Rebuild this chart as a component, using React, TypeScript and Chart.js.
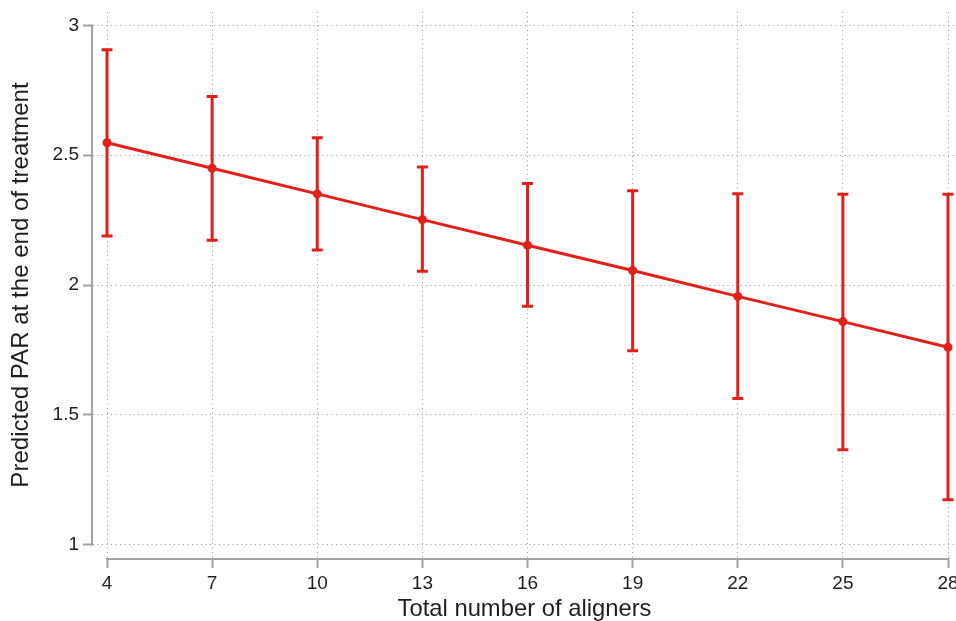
import React, { useEffect, useRef } from 'react';
import { Chart, registerables } from 'chart.js';

Chart.register(...registerables);

const aligners = [4, 7, 10, 13, 16, 19, 22, 25, 28];
const predicted = [2.548, 2.45, 2.351, 2.252, 2.153, 2.056, 1.956, 1.859, 1.76];
const upper = [2.907, 2.726, 2.567, 2.455, 2.391, 2.363, 2.352, 2.35, 2.35];
const lower = [2.189, 2.172, 2.135, 2.053, 1.918, 1.747, 1.563, 1.365, 1.172];
const xTicks = [4, 7, 10, 13, 16, 19, 22, 25, 28];
const yTicks = [1, 1.5, 2, 2.5, 3];
const xTitle = 'Total number of aligners';
const yTitle = 'Predicted PAR at the end of treatment';

const RED = '#e2201a';
const AXIS = '#a3a3a3';
const GRID = '#999999';
const TEXT = '#1e1e1e';
const FAMILY = "'Liberation Sans', Arial, sans-serif";

const zeroPadding = () => ({ left: 0, top: 0, right: 0, bottom: 0 });

const errorBarPlugin = {
  id: 'errorBars',
  afterDatasetsDraw(chart: any) {
    const { ctx, scales } = chart;
    const x = scales.x;
    const y = scales.y;
    ctx.save();
    ctx.strokeStyle = RED;
    ctx.lineWidth = 3;
    aligners.forEach((a, i) => {
      const px = x.getPixelForValue(a);
      const pt = y.getPixelForValue(upper[i]);
      const pb = y.getPixelForValue(lower[i]);
      ctx.beginPath();
      ctx.moveTo(px, pt);
      ctx.lineTo(px, pb);
      ctx.moveTo(px - 5.5, pt);
      ctx.lineTo(px + 5.5, pt);
      ctx.moveTo(px - 5.5, pb);
      ctx.lineTo(px + 5.5, pb);
      ctx.stroke();
    });
    ctx.restore();
  },
};

const axisLinePlugin = {
  id: 'axisLines',
  beforeDatasetsDraw(chart: any) {
    const { ctx, chartArea, scales } = chart;
    const x = scales.x;
    const y = scales.y;
    ctx.save();
    ctx.strokeStyle = AXIS;
    ctx.lineWidth = 2;
    ctx.beginPath();
    const lx = chartArea.left - 1;
    ctx.moveTo(lx, y.getPixelForValue(yTicks[yTicks.length - 1]) - 1);
    ctx.lineTo(lx, y.getPixelForValue(yTicks[0]) + 1);
    const by = chartArea.bottom + 1;
    ctx.moveTo(x.getPixelForValue(xTicks[0]) - 1, by);
    ctx.lineTo(x.getPixelForValue(xTicks[xTicks.length - 1]) + 1, by);
    ctx.stroke();
    ctx.restore();
  },
};

export default function App() {
  const canvasRef = useRef<HTMLCanvasElement | null>(null);

  useEffect(() => {
    document.body.style.margin = '0';
    const canvas = canvasRef.current;
    if (!canvas) return;
    const gridOpts = {
      color: GRID,
      lineWidth: 1,
      tickLength: 10,
      tickColor: AXIS,
      tickWidth: 2,
      tickBorderDash: [],
    };
    const chart = new Chart(canvas, {
      type: 'line',
      data: {
        datasets: [
          {
            data: aligners.map((a, i) => ({ x: a, y: predicted[i] })),
            borderColor: RED,
            backgroundColor: RED,
            borderWidth: 3,
            pointRadius: 4.5,
            pointBackgroundColor: RED,
            pointBorderColor: RED,
            pointBorderWidth: 0,
            fill: false,
            tension: 0,
          },
        ],
      },
      options: {
        animation: false,
        responsive: true,
        maintainAspectRatio: false,
        layout: { autoPadding: false, padding: { top: 12, right: 0, bottom: 0, left: 0 } },
        plugins: {
          legend: { display: false },
          tooltip: { enabled: false },
        },
        scales: {
          x: {
            type: 'linear',
            min: 3.6,
            max: 28.228,
            afterBuildTicks: (s: any) => {
              s.ticks = xTicks.map((v) => ({ value: v }));
            },
            afterFit: (s: any) => {
              s.height = 63;
              s.paddingLeft = 0;
              s.paddingRight = 0;
              s.getPadding = zeroPadding;
            },
            grid: gridOpts,
            border: { display: false, dash: [1, 3.5] },
            ticks: {
              font: { family: FAMILY, size: 19 },
              color: TEXT,
              padding: 4,
              maxRotation: 0,
              autoSkip: false,
              callback: (v: any) => String(v),
            },
            title: {
              display: true,
              text: xTitle,
              color: TEXT,
              font: { family: FAMILY, size: 23.8, lineHeight: 1 },
              padding: { top: 0, bottom: -0.5 },
            },
          },
          y: {
            type: 'linear',
            min: 0.948,
            max: 3.052,
            afterBuildTicks: (s: any) => {
              s.ticks = yTicks.map((v) => ({ value: v }));
            },
            afterFit: (s: any) => {
              s.width = 93;
              s.paddingTop = 0;
              s.paddingBottom = 0;
              s.getPadding = zeroPadding;
            },
            grid: gridOpts,
            border: { display: false, dash: [1, 3.5] },
            ticks: {
              font: { family: FAMILY, size: 19 },
              color: TEXT,
              padding: 4,
              autoSkip: false,
              callback: (v: any) => String(v),
            },
            title: {
              display: true,
              text: yTitle,
              color: TEXT,
              font: { family: FAMILY, size: 24.1, lineHeight: 1 },
              padding: { top: 9, bottom: 0 },
            },
          },
        },
      } as any,
      plugins: [axisLinePlugin, errorBarPlugin],
    });
    return () => chart.destroy();
  }, []);

  return (
    <div style={{ position: 'relative', width: '956px', height: '621px' }}>
      <canvas ref={canvasRef} />
    </div>
  );
}
